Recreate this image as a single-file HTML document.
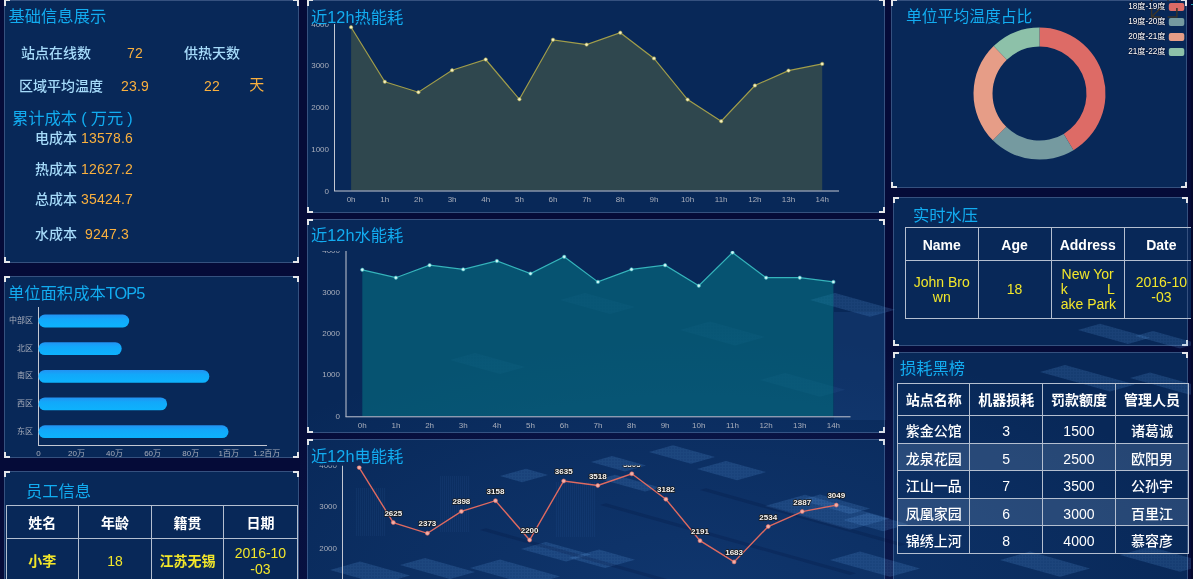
<!DOCTYPE html><html><head><meta charset="utf-8"><style>
*{margin:0;padding:0;box-sizing:border-box}
html,body{width:1193px;height:579px;overflow:hidden;background:#050b38;font-family:"Liberation Sans","Noto Sans CJK SC",sans-serif}
.city{position:absolute;left:0;top:0;width:1193px;height:579px;overflow:hidden}
.p{position:absolute;border:1px solid #35517f;background:rgba(9,48,96,0.8)}
.c{position:absolute;width:6px;height:6px;border:0 solid #e4e6ea}
.tl{left:-1px;top:-1px;border-width:2px 0 0 2px}
.tr{right:-1px;top:-1px;border-width:2px 2px 0 0}
.bl{left:-1px;bottom:-1px;border-width:0 0 2px 2px}
.br{right:-1px;bottom:-1px;border-width:0 2px 2px 0}
.top .tl,.top .tr{top:-1px;border-top-width:1px;height:6px}
.t{position:absolute;white-space:nowrap;line-height:1}
.ttl{color:#12acf0;font-size:16.3px;font-weight:400}
.lb{color:#a6dbfa;font-size:14px;font-weight:500}
.v{color:#fab03e;font-size:14px;letter-spacing:0.2px}
svg{position:absolute;left:0;top:0;overflow:visible}
svg text{font-family:"Liberation Sans","Noto Sans CJK SC",sans-serif}
table{position:absolute;border-collapse:collapse;table-layout:fixed}
td,th{border:1px solid #b4bfd0;text-align:center;font-size:14px;line-height:1.2;padding:0}
th{color:#fff;font-weight:bold;padding-top:2px}
td{color:#f3e72a;font-weight:500}
.n{font-weight:400}
</style></head><body><div class="p top" style="left:4px;top:0px;width:295px;height:263px"><i class="c tl"></i><i class="c tr"></i><i class="c bl"></i><i class="c br"></i></div><div class="p" style="left:4px;top:276px;width:295px;height:182px"><i class="c tl"></i><i class="c tr"></i><i class="c bl"></i><i class="c br"></i></div><div class="p" style="left:4px;top:471px;width:295px;height:130px"><i class="c tl"></i><i class="c tr"></i><i class="c bl"></i><i class="c br"></i></div><div class="p top" style="left:307px;top:0px;width:578px;height:213px"><i class="c tl"></i><i class="c tr"></i><i class="c bl"></i><i class="c br"></i></div><div class="p" style="left:307px;top:219px;width:578px;height:214px"><i class="c tl"></i><i class="c tr"></i><i class="c bl"></i><i class="c br"></i></div><div class="p" style="left:307px;top:439px;width:578px;height:162px"><i class="c tl"></i><i class="c tr"></i><i class="c bl"></i><i class="c br"></i></div><div class="p top" style="left:891px;top:0px;width:296px;height:188px"><i class="c tl"></i><i class="c tr"></i><i class="c bl"></i><i class="c br"></i></div><div class="p" style="left:893px;top:197px;width:295px;height:149px"><i class="c tl"></i><i class="c tr"></i><i class="c bl"></i><i class="c br"></i></div><div class="p" style="left:893px;top:352px;width:295px;height:249px"><i class="c tl"></i><i class="c tr"></i><i class="c bl"></i><i class="c br"></i></div><svg class="city" width="1193" height="579"><defs><radialGradient id="cg" gradientUnits="userSpaceOnUse" cx="690" cy="590" r="420" gradientTransform="translate(690 590) scale(1.25 0.62) translate(-690 -590)"><stop offset="0" stop-color="#2a66b8" stop-opacity="0.22"/><stop offset="0.6" stop-color="#2a66b8" stop-opacity="0.10"/><stop offset="1" stop-color="#2a66b8" stop-opacity="0"/></radialGradient><pattern id="gp" width="3" height="3" patternUnits="userSpaceOnUse"><rect width="3" height="3" fill="#5b9be0"/><rect x="0" y="0" width="2" height="2" fill="#4a86cc"/></pattern></defs><rect x="300" y="200" width="893" height="379" fill="url(#cg)"/><polygon points="521.0,549.0 546.0,542.0 591.0,554.6 566.0,561.6" fill="url(#gp)" fill-opacity="0.22"/><polygon points="569.0,558.0 599.0,549.6 635.0,559.7 605.0,568.1" fill="url(#gp)" fill-opacity="0.22"/><polygon points="470.0,568.0 500.0,559.6 560.0,576.4 530.0,584.8" fill="url(#gp)" fill-opacity="0.22"/><polygon points="591.0,462.0 612.0,456.1 646.0,465.6 625.0,471.5" fill="url(#gp)" fill-opacity="0.22"/><polygon points="649.0,452.0 673.0,445.3 715.0,457.0 691.0,463.8" fill="url(#gp)" fill-opacity="0.22"/><polygon points="697.0,469.0 726.0,460.9 766.0,472.1 737.0,480.2" fill="url(#gp)" fill-opacity="0.22"/><polygon points="600.0,479.0 615.0,474.8 660.0,487.4 645.0,491.6" fill="url(#gp)" fill-opacity="0.22"/><polygon points="500.0,476.0 526.0,468.7 548.0,474.9 522.0,482.2" fill="url(#gp)" fill-opacity="0.22"/><polygon points="765.0,506.0 805.0,494.8 890.0,518.6 850.0,529.8" fill="url(#gp)" fill-opacity="0.22"/><polygon points="800.0,500.0 820.0,494.4 870.0,508.4 850.0,514.0" fill="url(#gp)" fill-opacity="0.22"/><polygon points="843.0,520.0 868.0,513.0 908.0,524.2 883.0,531.2" fill="url(#gp)" fill-opacity="0.22"/><polygon points="830.0,560.0 860.0,551.6 920.0,568.4 890.0,576.8" fill="url(#gp)" fill-opacity="0.22"/><polygon points="400.0,565.0 425.0,558.0 475.0,572.0 450.0,579.0" fill="url(#gp)" fill-opacity="0.22"/><polygon points="330.0,570.0 360.0,561.6 410.0,575.6 380.0,584.0" fill="url(#gp)" fill-opacity="0.22"/><polygon points="810.0,300.0 835.0,293.0 895.0,309.8 870.0,316.8" fill="url(#gp)" fill-opacity="0.22"/><polygon points="1000.0,560.0 1030.0,551.6 1090.0,568.4 1060.0,576.8" fill="url(#gp)" fill-opacity="0.22"/><polygon points="1120.0,555.0 1150.0,546.6 1210.0,563.4 1180.0,571.8" fill="url(#gp)" fill-opacity="0.22"/><polygon points="1078.0,330.0 1100.0,323.8 1150.0,337.8 1128.0,344.0" fill="url(#gp)" fill-opacity="0.22"/><polygon points="1135.0,336.0 1153.0,331.0 1198.0,343.6 1180.0,348.6" fill="url(#gp)" fill-opacity="0.22"/><polygon points="1040.0,372.0 1065.0,365.0 1135.0,384.6 1110.0,391.6" fill="url(#gp)" fill-opacity="0.22"/><polygon points="1130.0,378.0 1150.0,372.4 1210.0,389.2 1190.0,394.8" fill="url(#gp)" fill-opacity="0.22"/><polygon points="560.0,300.0 585.0,293.0 635.0,307.0 610.0,314.0" fill="url(#gp)" fill-opacity="0.08"/><polygon points="680.0,330.0 710.0,321.6 765.0,337.0 735.0,345.4" fill="url(#gp)" fill-opacity="0.08"/><polygon points="450.0,360.0 475.0,353.0 525.0,367.0 500.0,374.0" fill="url(#gp)" fill-opacity="0.08"/><polygon points="760.0,380.0 785.0,373.0 845.0,389.8 820.0,396.8" fill="url(#gp)" fill-opacity="0.08"/><polygon points="480.0,530.0 486.0,528.3 786.0,612.3 780.0,614.0" fill="#020a30" fill-opacity="0.18"/><polygon points="600.0,505.0 606.0,503.3 856.0,573.3 850.0,575.0" fill="#020a30" fill-opacity="0.18"/><polygon points="700.0,490.0 706.0,488.3 906.0,544.3 900.0,546.0" fill="#020a30" fill-opacity="0.18"/><defs><pattern id="vs" width="2" height="4" patternUnits="userSpaceOnUse"><rect width="1" height="4" fill="#4c8ad6"/></pattern></defs><rect x="834" y="312" width="52" height="108" fill="#3f7fd0" fill-opacity="0.12"/><rect x="356" y="488" width="30" height="48" fill="url(#vs)" fill-opacity="0.07"/><rect x="440" y="476" width="30" height="56" fill="url(#vs)" fill-opacity="0.07"/><rect x="555" y="482" width="40" height="55" fill="url(#vs)" fill-opacity="0.07"/></svg><div class="t ttl" style="left:8.5px;top:8px;">基础信息展示</div><div class="t lb" style="left:21px;top:46px;">站点在线数</div><div class="t v" style="left:127px;top:46px;">72</div><div class="t lb" style="left:184px;top:46px;">供热天数</div><div class="t lb" style="left:19px;top:79px;">区域平均温度</div><div class="t v" style="left:121px;top:79px;">23.9</div><div class="t v" style="left:204px;top:79px;">22</div><div class="t v" style="left:249.2px;top:77.2px;font-size:15px">天</div><div class="t ttl" style="left:12px;top:110px;">累计成本<span style="display:inline-block;width:13.5px;text-align:center">(</span>万元<span style="display:inline-block;width:13.5px;text-align:center">)</span></div><div class="t lb" style="left:35px;top:131px;">电成本</div><div class="t v" style="left:81px;top:131px;">13578.6</div><div class="t lb" style="left:35px;top:162px;">热成本</div><div class="t v" style="left:81px;top:162px;">12627.2</div><div class="t lb" style="left:35px;top:192px;">总成本</div><div class="t v" style="left:81px;top:192px;">35424.7</div><div class="t lb" style="left:35px;top:227px;">水成本</div><div class="t v" style="left:85px;top:227px;">9247.3</div><div class="t ttl" style="left:8px;top:284.5px;">单位面积成本<span style="letter-spacing:-0.9px">TOP5</span></div><div class="t ttl" style="left:311px;top:9px;">近12h热能耗</div><div class="t ttl" style="left:311px;top:227px;">近12h水能耗</div><div class="t ttl" style="left:311px;top:447.5px;">近12h电能耗</div><div class="t ttl" style="left:906px;top:8.5px;font-size:15.8px">单位平均温度占比</div><div class="t ttl" style="left:913px;top:206.5px;">实时水压</div><div class="t ttl" style="left:900px;top:359.5px;">损耗黑榜</div><div class="t ttl" style="left:26px;top:483px;">员工信息</div><svg width="1193" height="579" viewBox="0 0 1193 579"><line x1="38.5" y1="307" x2="38.5" y2="445.5" stroke="#c3c7d2" stroke-width="1"/><line x1="38" y1="445.5" x2="267" y2="445.5" stroke="#c3c7d2" stroke-width="1"/><defs><linearGradient id="bg1" x1="0" x2="0" y1="0" y2="1"><stop offset="0" stop-color="#2392f2"/><stop offset="0.35" stop-color="#12a8fa"/><stop offset="1" stop-color="#0db3fd"/></linearGradient></defs><rect x="38.5" y="314.6" width="90.7" height="12.8" rx="6.4" fill="url(#bg1)"/><text x="33" y="323.0" font-size="8" fill="#a9aebb" text-anchor="end">中部区</text><rect x="38.5" y="342.2" width="83.2" height="12.8" rx="6.4" fill="url(#bg1)"/><text x="33" y="350.6" font-size="8" fill="#a9aebb" text-anchor="end">北区</text><rect x="38.5" y="370.0" width="170.8" height="12.8" rx="6.4" fill="url(#bg1)"/><text x="33" y="378.4" font-size="8" fill="#a9aebb" text-anchor="end">南区</text><rect x="38.5" y="397.5" width="128.6" height="12.8" rx="6.4" fill="url(#bg1)"/><text x="33" y="405.9" font-size="8" fill="#a9aebb" text-anchor="end">西区</text><rect x="38.5" y="425.3" width="190.0" height="12.8" rx="6.4" fill="url(#bg1)"/><text x="33" y="433.7" font-size="8" fill="#a9aebb" text-anchor="end">东区</text><text x="38.4" y="456" font-size="8" fill="#a9aebb" text-anchor="middle">0</text><text x="76.5" y="456" font-size="8" fill="#a9aebb" text-anchor="middle">20万</text><text x="114.5" y="456" font-size="8" fill="#a9aebb" text-anchor="middle">40万</text><text x="152.6" y="456" font-size="8" fill="#a9aebb" text-anchor="middle">60万</text><text x="190.7" y="456" font-size="8" fill="#a9aebb" text-anchor="middle">80万</text><text x="228.8" y="456" font-size="8" fill="#a9aebb" text-anchor="middle">1百万</text><text x="266.8" y="456" font-size="8" fill="#a9aebb" text-anchor="middle">1.2百万</text><clipPath id="ch1"><rect x="300" y="24" width="580" height="188"/></clipPath><g clip-path="url(#ch1)"><path d="M351.1,190.5 L351.1,27.2 L384.8,81.8 L418.4,92.2 L452.1,70.3 L485.7,59.5 L519.4,99.3 L553.0,39.8 L586.6,44.6 L620.3,32.7 L654.0,58.4 L687.6,99.6 L721.2,121.2 L754.9,85.5 L788.5,70.6 L822.2,63.9 L822.2,190.5 Z" fill="#2f474e"/><line x1="334.5" y1="24" x2="334.5" y2="191.0" stroke="#c3c7d2" stroke-width="1"/><line x1="334" y1="191.0" x2="839" y2="191.0" stroke="#c3c7d2" stroke-width="1"/><path d="M351.1,27.2 L384.8,81.8 L418.4,92.2 L452.1,70.3 L485.7,59.5 L519.4,99.3 L553.0,39.8 L586.6,44.6 L620.3,32.7 L654.0,58.4 L687.6,99.6 L721.2,121.2 L754.9,85.5 L788.5,70.6 L822.2,63.9" fill="none" stroke="#a19d4a" stroke-width="1.2"/><circle cx="351.1" cy="27.2" r="1.7" fill="#f5f0c0" stroke="#a19d4a" stroke-width="0.6"/><circle cx="384.8" cy="81.8" r="1.7" fill="#f5f0c0" stroke="#a19d4a" stroke-width="0.6"/><circle cx="418.4" cy="92.2" r="1.7" fill="#f5f0c0" stroke="#a19d4a" stroke-width="0.6"/><circle cx="452.1" cy="70.3" r="1.7" fill="#f5f0c0" stroke="#a19d4a" stroke-width="0.6"/><circle cx="485.7" cy="59.5" r="1.7" fill="#f5f0c0" stroke="#a19d4a" stroke-width="0.6"/><circle cx="519.4" cy="99.3" r="1.7" fill="#f5f0c0" stroke="#a19d4a" stroke-width="0.6"/><circle cx="553.0" cy="39.8" r="1.7" fill="#f5f0c0" stroke="#a19d4a" stroke-width="0.6"/><circle cx="586.6" cy="44.6" r="1.7" fill="#f5f0c0" stroke="#a19d4a" stroke-width="0.6"/><circle cx="620.3" cy="32.7" r="1.7" fill="#f5f0c0" stroke="#a19d4a" stroke-width="0.6"/><circle cx="654.0" cy="58.4" r="1.7" fill="#f5f0c0" stroke="#a19d4a" stroke-width="0.6"/><circle cx="687.6" cy="99.6" r="1.7" fill="#f5f0c0" stroke="#a19d4a" stroke-width="0.6"/><circle cx="721.2" cy="121.2" r="1.7" fill="#f5f0c0" stroke="#a19d4a" stroke-width="0.6"/><circle cx="754.9" cy="85.5" r="1.7" fill="#f5f0c0" stroke="#a19d4a" stroke-width="0.6"/><circle cx="788.5" cy="70.6" r="1.7" fill="#f5f0c0" stroke="#a19d4a" stroke-width="0.6"/><circle cx="822.2" cy="63.9" r="1.7" fill="#f5f0c0" stroke="#a19d4a" stroke-width="0.6"/><text x="329" y="26.7" font-size="8" fill="#a9aebb" text-anchor="end">4000</text><text x="329" y="68.4" font-size="8" fill="#a9aebb" text-anchor="end">3000</text><text x="329" y="110.1" font-size="8" fill="#a9aebb" text-anchor="end">2000</text><text x="329" y="151.8" font-size="8" fill="#a9aebb" text-anchor="end">1000</text><text x="329" y="193.5" font-size="8" fill="#a9aebb" text-anchor="end">0</text><text x="351.1" y="202.1" font-size="8" fill="#a9aebb" text-anchor="middle">0h</text><text x="384.8" y="202.1" font-size="8" fill="#a9aebb" text-anchor="middle">1h</text><text x="418.4" y="202.1" font-size="8" fill="#a9aebb" text-anchor="middle">2h</text><text x="452.1" y="202.1" font-size="8" fill="#a9aebb" text-anchor="middle">3h</text><text x="485.7" y="202.1" font-size="8" fill="#a9aebb" text-anchor="middle">4h</text><text x="519.4" y="202.1" font-size="8" fill="#a9aebb" text-anchor="middle">5h</text><text x="553.0" y="202.1" font-size="8" fill="#a9aebb" text-anchor="middle">6h</text><text x="586.6" y="202.1" font-size="8" fill="#a9aebb" text-anchor="middle">7h</text><text x="620.3" y="202.1" font-size="8" fill="#a9aebb" text-anchor="middle">8h</text><text x="654.0" y="202.1" font-size="8" fill="#a9aebb" text-anchor="middle">9h</text><text x="687.6" y="202.1" font-size="8" fill="#a9aebb" text-anchor="middle">10h</text><text x="721.2" y="202.1" font-size="8" fill="#a9aebb" text-anchor="middle">11h</text><text x="754.9" y="202.1" font-size="8" fill="#a9aebb" text-anchor="middle">12h</text><text x="788.5" y="202.1" font-size="8" fill="#a9aebb" text-anchor="middle">13h</text><text x="822.2" y="202.1" font-size="8" fill="#a9aebb" text-anchor="middle">14h</text></g><clipPath id="ch2"><rect x="300" y="251" width="580" height="181"/></clipPath><g clip-path="url(#ch2)"><path d="M362.3,416.3 L362.3,269.8 L395.9,277.7 L429.6,265.2 L463.2,269.4 L496.9,261.0 L530.5,273.6 L564.2,256.8 L597.9,281.9 L631.5,269.4 L665.1,265.2 L698.8,285.7 L732.5,252.6 L766.1,277.7 L799.8,277.7 L833.4,281.9 L833.4,416.3 Z" fill="rgba(4,125,138,0.5)"/><line x1="346.0" y1="251" x2="346.0" y2="416.8" stroke="#c3c7d2" stroke-width="1"/><line x1="345.5" y1="416.8" x2="850.5" y2="416.8" stroke="#c3c7d2" stroke-width="1"/><path d="M362.3,269.8 L395.9,277.7 L429.6,265.2 L463.2,269.4 L496.9,261.0 L530.5,273.6 L564.2,256.8 L597.9,281.9 L631.5,269.4 L665.1,265.2 L698.8,285.7 L732.5,252.6 L766.1,277.7 L799.8,277.7 L833.4,281.9" fill="none" stroke="#35b4bb" stroke-width="1.2"/><circle cx="362.3" cy="269.8" r="1.7" fill="#d0f6f6" stroke="#35b4bb" stroke-width="0.6"/><circle cx="395.9" cy="277.7" r="1.7" fill="#d0f6f6" stroke="#35b4bb" stroke-width="0.6"/><circle cx="429.6" cy="265.2" r="1.7" fill="#d0f6f6" stroke="#35b4bb" stroke-width="0.6"/><circle cx="463.2" cy="269.4" r="1.7" fill="#d0f6f6" stroke="#35b4bb" stroke-width="0.6"/><circle cx="496.9" cy="261.0" r="1.7" fill="#d0f6f6" stroke="#35b4bb" stroke-width="0.6"/><circle cx="530.5" cy="273.6" r="1.7" fill="#d0f6f6" stroke="#35b4bb" stroke-width="0.6"/><circle cx="564.2" cy="256.8" r="1.7" fill="#d0f6f6" stroke="#35b4bb" stroke-width="0.6"/><circle cx="597.9" cy="281.9" r="1.7" fill="#d0f6f6" stroke="#35b4bb" stroke-width="0.6"/><circle cx="631.5" cy="269.4" r="1.7" fill="#d0f6f6" stroke="#35b4bb" stroke-width="0.6"/><circle cx="665.1" cy="265.2" r="1.7" fill="#d0f6f6" stroke="#35b4bb" stroke-width="0.6"/><circle cx="698.8" cy="285.7" r="1.7" fill="#d0f6f6" stroke="#35b4bb" stroke-width="0.6"/><circle cx="732.5" cy="252.6" r="1.7" fill="#d0f6f6" stroke="#35b4bb" stroke-width="0.6"/><circle cx="766.1" cy="277.7" r="1.7" fill="#d0f6f6" stroke="#35b4bb" stroke-width="0.6"/><circle cx="799.8" cy="277.7" r="1.7" fill="#d0f6f6" stroke="#35b4bb" stroke-width="0.6"/><circle cx="833.4" cy="281.9" r="1.7" fill="#d0f6f6" stroke="#35b4bb" stroke-width="0.6"/><text x="340" y="252.6" font-size="8" fill="#a9aebb" text-anchor="end">4000</text><text x="340" y="294.6" font-size="8" fill="#a9aebb" text-anchor="end">3000</text><text x="340" y="335.8" font-size="8" fill="#a9aebb" text-anchor="end">2000</text><text x="340" y="377.3" font-size="8" fill="#a9aebb" text-anchor="end">1000</text><text x="340" y="419.3" font-size="8" fill="#a9aebb" text-anchor="end">0</text><text x="362.3" y="427.8" font-size="8" fill="#a9aebb" text-anchor="middle">0h</text><text x="395.9" y="427.8" font-size="8" fill="#a9aebb" text-anchor="middle">1h</text><text x="429.6" y="427.8" font-size="8" fill="#a9aebb" text-anchor="middle">2h</text><text x="463.2" y="427.8" font-size="8" fill="#a9aebb" text-anchor="middle">3h</text><text x="496.9" y="427.8" font-size="8" fill="#a9aebb" text-anchor="middle">4h</text><text x="530.5" y="427.8" font-size="8" fill="#a9aebb" text-anchor="middle">5h</text><text x="564.2" y="427.8" font-size="8" fill="#a9aebb" text-anchor="middle">6h</text><text x="597.9" y="427.8" font-size="8" fill="#a9aebb" text-anchor="middle">7h</text><text x="631.5" y="427.8" font-size="8" fill="#a9aebb" text-anchor="middle">8h</text><text x="665.1" y="427.8" font-size="8" fill="#a9aebb" text-anchor="middle">9h</text><text x="698.8" y="427.8" font-size="8" fill="#a9aebb" text-anchor="middle">10h</text><text x="732.5" y="427.8" font-size="8" fill="#a9aebb" text-anchor="middle">11h</text><text x="766.1" y="427.8" font-size="8" fill="#a9aebb" text-anchor="middle">12h</text><text x="799.8" y="427.8" font-size="8" fill="#a9aebb" text-anchor="middle">13h</text><text x="833.4" y="427.8" font-size="8" fill="#a9aebb" text-anchor="middle">14h</text></g><clipPath id="ch3"><rect x="300" y="465.5" width="580" height="113.5"/></clipPath><g clip-path="url(#ch3)"><line x1="342.5" y1="465.5" x2="342.5" y2="640.5" stroke="#c3c7d2" stroke-width="1"/><path d="M359.2,467.6 L393.3,522.6 L427.4,533.3 L461.4,511.4 L495.5,500.7 L529.6,540.0 L563.7,481.0 L597.8,485.5 L631.8,473.8 L665.9,499.2 L700.0,540.7 L734.1,561.9 L768.2,526.5 L802.2,511.6 L836.3,505.1" fill="none" stroke="#df6a60" stroke-width="1.4"/><circle cx="359.2" cy="467.6" r="2" fill="#f2b0a8" stroke="#df6a60" stroke-width="0.6"/><circle cx="393.3" cy="522.6" r="2" fill="#f2b0a8" stroke="#df6a60" stroke-width="0.6"/><circle cx="427.4" cy="533.3" r="2" fill="#f2b0a8" stroke="#df6a60" stroke-width="0.6"/><circle cx="461.4" cy="511.4" r="2" fill="#f2b0a8" stroke="#df6a60" stroke-width="0.6"/><circle cx="495.5" cy="500.7" r="2" fill="#f2b0a8" stroke="#df6a60" stroke-width="0.6"/><circle cx="529.6" cy="540.0" r="2" fill="#f2b0a8" stroke="#df6a60" stroke-width="0.6"/><circle cx="563.7" cy="481.0" r="2" fill="#f2b0a8" stroke="#df6a60" stroke-width="0.6"/><circle cx="597.8" cy="485.5" r="2" fill="#f2b0a8" stroke="#df6a60" stroke-width="0.6"/><circle cx="631.8" cy="473.8" r="2" fill="#f2b0a8" stroke="#df6a60" stroke-width="0.6"/><circle cx="665.9" cy="499.2" r="2" fill="#f2b0a8" stroke="#df6a60" stroke-width="0.6"/><circle cx="700.0" cy="540.7" r="2" fill="#f2b0a8" stroke="#df6a60" stroke-width="0.6"/><circle cx="734.1" cy="561.9" r="2" fill="#f2b0a8" stroke="#df6a60" stroke-width="0.6"/><circle cx="768.2" cy="526.5" r="2" fill="#f2b0a8" stroke="#df6a60" stroke-width="0.6"/><circle cx="802.2" cy="511.6" r="2" fill="#f2b0a8" stroke="#df6a60" stroke-width="0.6"/><circle cx="836.3" cy="505.1" r="2" fill="#f2b0a8" stroke="#df6a60" stroke-width="0.6"/><text x="337" y="467.8" font-size="8" fill="#a9aebb" text-anchor="end">4000</text><text x="337" y="509.2" font-size="8" fill="#a9aebb" text-anchor="end">3000</text><text x="337" y="551.0" font-size="8" fill="#a9aebb" text-anchor="end">2000</text><text x="359.2" y="460.6" font-size="8" font-weight="bold" fill="#f4f4f4" stroke="#1a1a1a" stroke-width="1.5" paint-order="stroke" text-anchor="middle"></text><text x="393.3" y="515.6" font-size="8" font-weight="bold" fill="#f4f4f4" stroke="#1a1a1a" stroke-width="1.5" paint-order="stroke" text-anchor="middle">2625</text><text x="427.4" y="526.3" font-size="8" font-weight="bold" fill="#f4f4f4" stroke="#1a1a1a" stroke-width="1.5" paint-order="stroke" text-anchor="middle">2373</text><text x="461.4" y="504.4" font-size="8" font-weight="bold" fill="#f4f4f4" stroke="#1a1a1a" stroke-width="1.5" paint-order="stroke" text-anchor="middle">2898</text><text x="495.5" y="493.7" font-size="8" font-weight="bold" fill="#f4f4f4" stroke="#1a1a1a" stroke-width="1.5" paint-order="stroke" text-anchor="middle">3158</text><text x="529.6" y="533.0" font-size="8" font-weight="bold" fill="#f4f4f4" stroke="#1a1a1a" stroke-width="1.5" paint-order="stroke" text-anchor="middle">2200</text><text x="563.7" y="474.0" font-size="8" font-weight="bold" fill="#f4f4f4" stroke="#1a1a1a" stroke-width="1.5" paint-order="stroke" text-anchor="middle">3635</text><text x="597.8" y="478.5" font-size="8" font-weight="bold" fill="#f4f4f4" stroke="#1a1a1a" stroke-width="1.5" paint-order="stroke" text-anchor="middle">3518</text><text x="631.8" y="466.8" font-size="8" font-weight="bold" fill="#f4f4f4" stroke="#1a1a1a" stroke-width="1.5" paint-order="stroke" text-anchor="middle">3803</text><text x="665.9" y="492.2" font-size="8" font-weight="bold" fill="#f4f4f4" stroke="#1a1a1a" stroke-width="1.5" paint-order="stroke" text-anchor="middle">3182</text><text x="700.0" y="533.7" font-size="8" font-weight="bold" fill="#f4f4f4" stroke="#1a1a1a" stroke-width="1.5" paint-order="stroke" text-anchor="middle">2191</text><text x="734.1" y="554.9" font-size="8" font-weight="bold" fill="#f4f4f4" stroke="#1a1a1a" stroke-width="1.5" paint-order="stroke" text-anchor="middle">1683</text><text x="768.2" y="519.5" font-size="8" font-weight="bold" fill="#f4f4f4" stroke="#1a1a1a" stroke-width="1.5" paint-order="stroke" text-anchor="middle">2534</text><text x="802.2" y="504.6" font-size="8" font-weight="bold" fill="#f4f4f4" stroke="#1a1a1a" stroke-width="1.5" paint-order="stroke" text-anchor="middle">2887</text><text x="836.3" y="498.1" font-size="8" font-weight="bold" fill="#f4f4f4" stroke="#1a1a1a" stroke-width="1.5" paint-order="stroke" text-anchor="middle">3049</text></g><path d="M1039.50,27.60 A66,66 0 0 1 1073.49,150.17 L1063.71,133.89 A47,47 0 0 0 1039.50,46.60 Z" fill="#dd6b66"/><path d="M1073.49,150.17 A66,66 0 0 1 992.83,140.27 L1006.27,126.83 A47,47 0 0 0 1063.71,133.89 Z" fill="#759aa0"/><path d="M992.83,140.27 A66,66 0 0 1 993.65,46.12 L1006.85,59.79 A47,47 0 0 0 1006.27,126.83 Z" fill="#e69d87"/><path d="M993.65,46.12 A66,66 0 0 1 1039.50,27.60 L1039.50,46.60 A47,47 0 0 0 1006.85,59.79 Z" fill="#8dc1a9"/><rect x="1168.8" y="2.9" width="15.5" height="8" rx="2" fill="#dd6b66"/><text x="1165.5" y="9.1" font-size="8.2" fill="#ffffff" stroke="#081433" stroke-width="1.1" paint-order="stroke" text-anchor="end">18度-19度</text><rect x="1168.8" y="18.0" width="15.5" height="8" rx="2" fill="#759aa0"/><text x="1165.5" y="24.2" font-size="8.2" fill="#ffffff" stroke="#081433" stroke-width="1.1" paint-order="stroke" text-anchor="end">19度-20度</text><rect x="1168.8" y="33.0" width="15.5" height="8" rx="2" fill="#e69d87"/><text x="1165.5" y="39.2" font-size="8.2" fill="#ffffff" stroke="#081433" stroke-width="1.1" paint-order="stroke" text-anchor="end">20度-21度</text><rect x="1168.8" y="48.0" width="15.5" height="8" rx="2" fill="#8dc1a9"/><text x="1165.5" y="54.2" font-size="8.2" fill="#ffffff" stroke="#081433" stroke-width="1.1" paint-order="stroke" text-anchor="end">21度-22度</text><path d="M1151.6,8.4 V16.9 H1160.4 M1151.6,16.9 L1160.9,7.8 M1167.6,16.9 H1176.9 V8 M1151.6,0 V1.2 M1168,0 V1.2 M1176.5,0 V1.2" fill="none" stroke="#38332a" stroke-width="1.5"/></svg><div style="position:absolute;left:1188px;top:227px;width:3px;height:92px;background:#092657"></div><table style="left:905px;top:227px;width:293px">
<colgroup><col style="width:72.5px"><col style="width:73.2px"><col style="width:73px"><col style="width:74.3px"></colgroup>
<tr style="height:33.3px"><th>Name</th><th>Age</th><th>Address</th><th>Date</th></tr>
<tr style="height:58px;line-height:15.3px"><td class="n" style="line-height:15.3px">John Bro<br>wn</td><td class="n">18</td><td class="n" style="line-height:15.3px"><div style="width:54px;margin:0 auto;white-space:nowrap">New Yor<div style="display:flex;justify-content:space-between"><span>k</span><span>L</span></div>ake Park</div></td><td class="n" style="line-height:15.3px">2016-10<br>-03</td></tr>
</table><table style="left:897px;top:383px;width:291.5px">
<colgroup><col style="width:72.4px"><col style="width:72.7px"><col style="width:72.7px"><col style="width:73.7px"></colgroup>
<tr style="height:32.4px"><th>站点名称</th><th>机器损耗</th><th>罚款额度</th><th>管理人员</th></tr>
<tr style="height:27.45px"><td style="color:#fff;padding-top:4px">紫金公馆</td><td style="color:#fff;padding-top:4px">3</td><td style="color:#fff;padding-top:4px">1500</td><td style="color:#fff;padding-top:4px">诸葛诚</td></tr><tr style="height:27.45px;background:rgba(120,150,190,0.28)"><td style="color:#fff;padding-top:4px">龙泉花园</td><td style="color:#fff;padding-top:4px">5</td><td style="color:#fff;padding-top:4px">2500</td><td style="color:#fff;padding-top:4px">欧阳男</td></tr><tr style="height:27.45px"><td style="color:#fff;padding-top:4px">江山一品</td><td style="color:#fff;padding-top:4px">7</td><td style="color:#fff;padding-top:4px">3500</td><td style="color:#fff;padding-top:4px">公孙宇</td></tr><tr style="height:27.45px;background:rgba(120,150,190,0.28)"><td style="color:#fff;padding-top:4px">凤凰家园</td><td style="color:#fff;padding-top:4px">6</td><td style="color:#fff;padding-top:4px">3000</td><td style="color:#fff;padding-top:4px">百里江</td></tr><tr style="height:27.45px"><td style="color:#fff;padding-top:4px">锦绣上河</td><td style="color:#fff;padding-top:4px">8</td><td style="color:#fff;padding-top:4px">4000</td><td style="color:#fff;padding-top:4px">慕容彦</td></tr>
</table><table style="left:5.5px;top:505.2px;width:291.2px">
<colgroup><col style="width:72.5px"><col style="width:72.9px"><col style="width:72.4px"><col style="width:73.4px"></colgroup>
<tr style="height:33.2px"><th>姓名</th><th>年龄</th><th>籍贯</th><th>日期</th></tr>
<tr style="height:45px"><td style="font-weight:600">小李</td><td class="n">18</td><td style="font-weight:600">江苏无锡</td><td class="n">2016-10<br>-03</td></tr>
</table><div style="position:absolute;left:1191px;top:0;width:2px;height:579px;background:#04082c"></div><div style="position:absolute;left:1191px;top:3.5px;width:2px;height:1.5px;background:#1fa6b8"></div></body></html>
